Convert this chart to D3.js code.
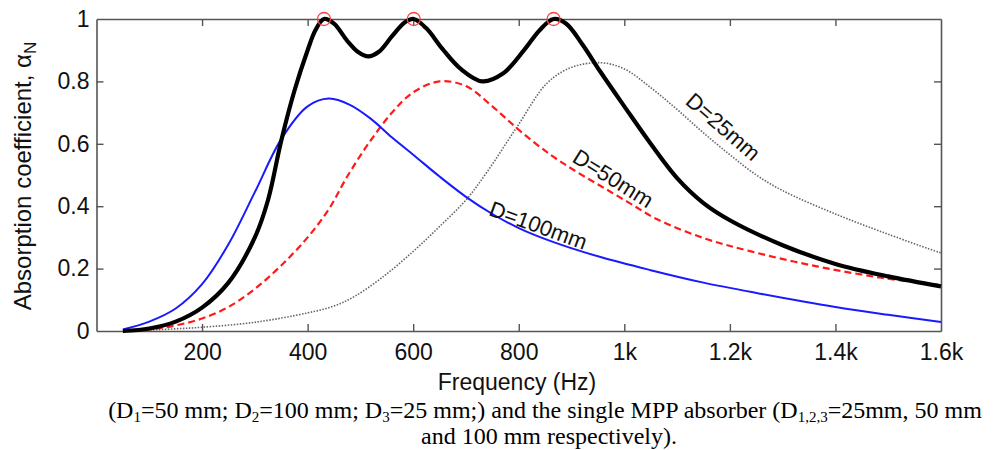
<!DOCTYPE html>
<html>
<head>
<meta charset="utf-8">
<script src="https://cdn.jsdelivr.net/npm/d3@7"></script>
<style>
  body { margin: 0; background: #fff; }
  svg { display: block; }
</style>
</head>
<body>
<div id="chart"></div>
<script>
const width = 997;
const height = 450;
const margin = { top: 19, right: 56, bottom: 119, left: 96.5 };

// combined absorber (thick black)
const combinedFreq = [50, 100, 150, 200, 250, 300, 325, 350, 375, 400, 415, 431, 450, 475, 495, 515, 535, 560, 585, 601, 625, 655, 690, 731, 770, 810, 840, 866, 890, 920, 955, 1000, 1050, 1100, 1150, 1200, 1300, 1400, 1500, 1600];
const combined = [0, 0.008, 0.03, 0.075, 0.155, 0.30, 0.42, 0.61, 0.77, 0.90, 0.965, 1.0, 0.985, 0.93, 0.895, 0.88, 0.895, 0.945, 0.99, 1.0, 0.97, 0.905, 0.84, 0.80, 0.825, 0.90, 0.965, 1.0, 0.985, 0.92, 0.83, 0.72, 0.60, 0.49, 0.41, 0.355, 0.275, 0.215, 0.175, 0.143];

// D=100mm (blue)
const d100Freq = [50, 100, 150, 200, 250, 300, 350, 400, 440, 480, 520, 560, 600, 650, 700, 750, 800, 866, 955, 1050, 1150, 1250, 1400, 1500, 1600];
const d100 = [0.005, 0.03, 0.072, 0.15, 0.278, 0.445, 0.615, 0.72, 0.745, 0.725, 0.68, 0.62, 0.565, 0.495, 0.43, 0.375, 0.33, 0.285, 0.237, 0.195, 0.155, 0.122, 0.077, 0.052, 0.029];

// D=50mm (red dashed)
const d50Freq = [50, 100, 150, 200, 250, 300, 350, 400, 440, 475, 515, 560, 600, 650, 700, 750, 800, 860, 910, 960, 1010, 1060, 1150, 1240, 1365, 1490, 1600];
const d50 = [0, 0.005, 0.018, 0.04, 0.077, 0.135, 0.21, 0.30, 0.39, 0.495, 0.60, 0.70, 0.765, 0.80, 0.785, 0.72, 0.645, 0.565, 0.51, 0.46, 0.41, 0.36, 0.298, 0.255, 0.207, 0.17, 0.147];

// D=25mm (grey dotted)
const d25Freq = [50, 100, 150, 200, 300, 400, 450, 490, 540, 600, 650, 700, 740, 797, 854, 900, 955, 1000, 1050, 1100, 1150, 1200, 1250, 1300, 1400, 1500, 1600];
const d25 = [0, 0.003, 0.007, 0.012, 0.028, 0.058, 0.08, 0.112, 0.17, 0.255, 0.335, 0.42, 0.51, 0.655, 0.795, 0.845, 0.86, 0.84, 0.78, 0.71, 0.635, 0.565, 0.50, 0.45, 0.375, 0.31, 0.25];

// peaks of the combined curve marked with circles
const peakFreq = [431, 601, 866];
const peakValue = [1, 1, 1];

const xTicks = [200, 400, 600, 800, 1000, 1200, 1400, 1600];
const xTickLabels = ['200', '400', '600', '800', '1k', '1.2k', '1.4k', '1.6k'];
const yTicks = [0, 0.2, 0.4, 0.6, 0.8, 1];
const yTickLabels = ['0', '0.2', '0.4', '0.6', '0.8', '1'];

const curveLabels = [
    { text: 'D=25mm', f: 1185, v: 0.65, angle: 41 },
    { text: 'D=50mm', f: 977, v: 0.484, angle: 32 },
    { text: 'D=100mm', f: 836, v: 0.333, angle: 20 }
];

const svg = d3.select('#chart')
    .append('svg')
    .attr('width', width)
    .attr('height', height)
    .attr('viewBox', [0, 0, width, height])
    .style('font-family', 'Liberation Sans, Arial, sans-serif');

const x = d3.scaleLinear()
    .domain([0, 1600])
    .range([margin.left, width - margin.right]);

const y = d3.scaleLinear()
    .domain([0, 1])
    .range([height - margin.bottom, margin.top]);

const axisColor = '#555';
const tickLen = 7;

// inward ticks on all four sides (matlab style)
const axBottom = svg.append('g')
    .attr('transform', `translate(0, ${y(0)})`)
    .call(d3.axisBottom(x).tickValues(xTicks).tickSizeInner(-tickLen).tickSizeOuter(0)
        .tickPadding(13).tickFormat((d, i) => xTickLabels[i]));
const axTop = svg.append('g')
    .attr('transform', `translate(0, ${y(1)})`)
    .call(d3.axisTop(x).tickValues(xTicks).tickSizeInner(-tickLen).tickSizeOuter(0).tickFormat(''));
const axLeft = svg.append('g')
    .attr('transform', `translate(${x(0)}, 0)`)
    .call(d3.axisLeft(y).tickValues(yTicks).tickSizeInner(-tickLen).tickSizeOuter(0)
        .tickPadding(7).tickFormat((d, i) => yTickLabels[i]));
const axRight = svg.append('g')
    .attr('transform', `translate(${x(1600)}, 0)`)
    .call(d3.axisRight(y).tickValues(yTicks).tickSizeInner(-tickLen).tickSizeOuter(0).tickFormat(''));

[axBottom, axTop, axLeft, axRight].forEach(g => {
    g.select('.domain').attr('stroke', axisColor).attr('stroke-width', 1.6);
    g.selectAll('.tick line').attr('stroke', axisColor).attr('stroke-width', 1.4);
    g.selectAll('.tick text').attr('fill', '#111').attr('font-size', '23px')
        .attr('font-family', 'Liberation Sans, Arial, sans-serif');
});
// hide ticks sitting on the corners
axLeft.selectAll('.tick').filter(d => d === 0 || d === 1).select('line').remove();
axRight.selectAll('.tick').filter(d => d === 0 || d === 1).select('line').remove();
axBottom.selectAll('.tick').filter(d => d === 1600).select('line').remove();
axTop.selectAll('.tick').filter(d => d === 1600).select('line').remove();

const line = (fs, vals) => d3.line()
    .x((d, i) => x(fs[i]))
    .y(d => y(d))
    .curve(d3.curveCatmullRom.alpha(0.5))(vals);

const plot = svg.append('g');

plot.append('path')
    .attr('d', line(d25Freq, d25))
    .attr('fill', 'none')
    .attr('stroke', '#666')
    .attr('stroke-width', 1.6)
    .attr('stroke-dasharray', '1.5,1.5');

plot.append('path')
    .attr('d', line(d50Freq, d50))
    .attr('fill', 'none')
    .attr('stroke', '#ff1a1a')
    .attr('stroke-width', 2.2)
    .attr('stroke-dasharray', '7,4');

plot.append('path')
    .attr('d', line(d100Freq, d100))
    .attr('fill', 'none')
    .attr('stroke', '#1a1aff')
    .attr('stroke-width', 2);

plot.append('path')
    .attr('d', line(combinedFreq, combined))
    .attr('fill', 'none')
    .attr('stroke', '#000')
    .attr('stroke-width', 4.2)
    .attr('stroke-linejoin', 'round');

plot.selectAll('circle')
    .data(peakFreq)
    .join('circle')
      .attr('cx', d => x(d))
      .attr('cy', (d, i) => y(peakValue[i]))
      .attr('r', 6.5)
      .attr('fill', 'none')
      .attr('stroke', '#ff4040')
      .attr('stroke-width', 1.3);

plot.selectAll('text.lab')
    .data(curveLabels)
    .join('text')
      .attr('class', 'lab')
      .attr('transform', d => `translate(${x(d.f)}, ${y(d.v)}) rotate(${d.angle})`)
      .attr('text-anchor', 'middle')
      .attr('dominant-baseline', 'middle')
      .attr('font-size', '22px')
      .attr('fill', '#111')
      .text(d => d.text);

// axis titles
svg.append('text')
    .attr('x', 517)
    .attr('y', 390)
    .attr('text-anchor', 'middle')
    .attr('font-size', '23px')
    .attr('fill', '#111')
    .text('Frequency (Hz)');

const yl = svg.append('text')
    .attr('transform', 'translate(31, 176) rotate(-90)')
    .attr('text-anchor', 'middle')
    .attr('font-size', '24px')
    .attr('fill', '#111');
yl.append('tspan').text('Absorption coefficient, α');
yl.append('tspan').attr('font-size', '17px').attr('dy', 5).text('N');

// caption
const cap = svg.append('g')
    .attr('font-family', 'Liberation Serif, Times New Roman, serif')
    .attr('font-size', '24px')
    .attr('fill', '#000');

const c1 = cap.append('text').attr('x', 545).attr('y', 418).attr('text-anchor', 'middle');
const sub = (t, s) => {
    t.append('tspan').attr('font-size', '15px').attr('dy', 4).text(s);
    return t;
};
const norm = (t, s) => t.append('tspan').attr('dy', -4).text(s);
c1.append('tspan').text('(D');
sub(c1, '1'); norm(c1, '=50 mm; D');
sub(c1, '2'); norm(c1, '=100 mm; D');
sub(c1, '3'); norm(c1, '=25 mm;) and the single MPP absorber (D');
sub(c1, '1,2,3'); norm(c1, '=25mm, 50 mm');

cap.append('text').attr('x', 549).attr('y', 444).attr('text-anchor', 'middle')
    .text('and 100 mm respectively).');
</script>
</body>
</html>
